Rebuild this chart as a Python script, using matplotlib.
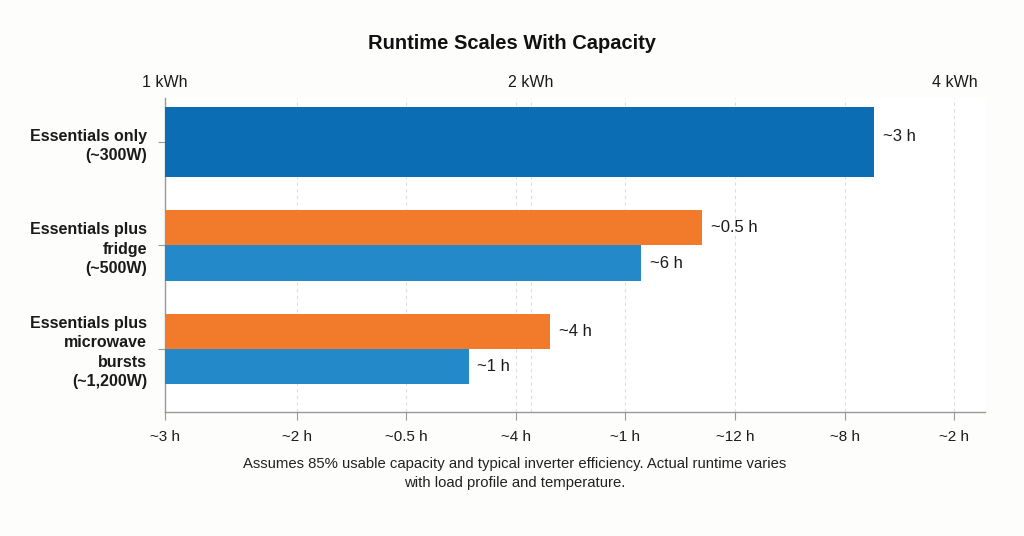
import matplotlib
matplotlib.use("Agg")
import matplotlib.pyplot as plt
import numpy as np

plt.rcParams['font.family'] = ['Liberation Sans', 'DejaVu Sans']

# categories, top to bottom
categories = ["Essentials only\n(~300W)",
              "Essentials plus\nfridge\n(~500W)",
              "Essentials plus\nmicrowave\nbursts\n(~1,200W)"]

# bar lengths (axis units)
single_value = 6.47
orange_values = [4.90, 3.51]
blue_values = [4.34, 2.77]
single_label = "~3 h"
orange_labels = ["~0.5 h", "~4 h"]
blue_labels = ["~6 h", "~1 h"]

bottom_ticks = [0, 1.2, 2.2, 3.2, 4.2, 5.2, 6.2, 7.2]
bottom_labels = ["~3 h", "~2 h", "~0.5 h", "~4 h", "~1 h", "~12 h", "~8 h", "~2 h"]
top_ticks = [0, 3.34, 7.2]
top_labels = ["1 kWh", "2 kWh", "4 kWh"]

dark_blue = "#0b6db3"
light_blue = "#2489c8"
orange = "#f27a2b"

fig = plt.figure(figsize=(10.24, 5.36), dpi=100)
fig.patch.set_facecolor("#fdfdfb")
ax = fig.add_axes([0.1611, 0.2313, 0.8009, 0.5857])
ax.set_facecolor("white")

bh = 0.34
ax.barh(0, single_value, height=2 * bh, color=dark_blue, zorder=3)
ax.text(single_value + 0.08, 0 - 0.05, single_label, va="center", ha="left", fontsize=12, color="#1a1a1a")

for i in range(2):
    y = i + 1
    ax.barh(y - bh / 2, orange_values[i], height=bh, color=orange, zorder=3)
    ax.barh(y + bh / 2, blue_values[i], height=bh, color=light_blue, zorder=3)
    ax.text(orange_values[i] + 0.08, y - bh / 2, orange_labels[i], va="center", ha="left",
            fontsize=12, color="#1a1a1a")
    ax.text(blue_values[i] + 0.08, y + bh / 2, blue_labels[i], va="center", ha="left",
            fontsize=12, color="#1a1a1a")

ax.set_xlim(0, 7.48)
ax.set_ylim(2.61, -0.425)

ax.set_yticks([0, 1, 2])
ax.set_yticklabels(categories, fontsize=11.5, fontweight="bold", color="#1a1a1a")
for lab in ax.get_yticklabels():
    lab.set_linespacing(1.36)
ax.tick_params(axis="y", length=5, color="#999999", pad=8)

ax.set_xticks(bottom_ticks)
ax.set_xticklabels(bottom_labels, fontsize=11, color="#1a1a1a")
ax.tick_params(axis="x", length=6, color="#999999", pad=7)

for x in bottom_ticks + [top_ticks[1]]:
    ax.axvline(x, color="#dddddd", lw=0.8, ls=(0, (3, 3)), zorder=0)

top = ax.secondary_xaxis("top")
top.set_xticks(top_ticks)
top.set_xticklabels(top_labels, fontsize=11.5, color="#1a1a1a")
top.tick_params(length=0, pad=6)
top.spines["top"].set_visible(False)

for s in ["top", "right"]:
    ax.spines[s].set_visible(False)
for s in ["left", "bottom"]:
    ax.spines[s].set_color("#999999")
    ax.spines[s].set_linewidth(1.0)

fig.text(0.5, 0.918, "Runtime Scales With Capacity", ha="center", va="center",
         fontsize=14.5, fontweight="bold", color="#111111")
fig.text(0.503, 0.116,
         "Assumes 85% usable capacity and typical inverter efficiency. Actual runtime varies\n"
         "with load profile and temperature.",
         ha="center", va="center", fontsize=10.7, color="#222222", linespacing=1.45)

fig.savefig("out.png", dpi=100, facecolor=fig.get_facecolor())
